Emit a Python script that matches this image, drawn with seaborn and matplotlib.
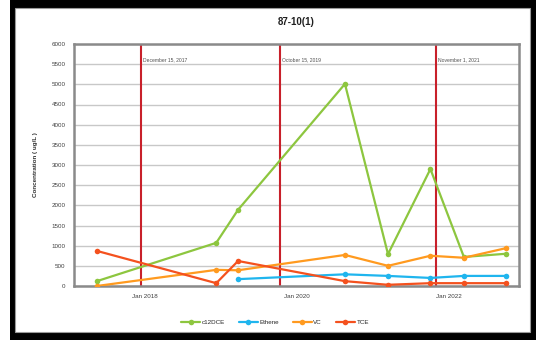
import matplotlib
matplotlib.use("Agg")
import matplotlib.pyplot as plt
import matplotlib.dates as mdates
from matplotlib.patches import Rectangle
import pandas as pd
import numpy as np
import seaborn as sns

# Sampling dates and concentrations (ug/L)
sample_dates = ["2017-05-15", "2018-12-10", "2019-03-25", "2020-08-20",
                "2021-03-15", "2021-10-05", "2022-03-15", "2022-10-05"]
c12dce = [120, 1070, 1890, 5010, 790, 2900, 720, 800]
ethene = [np.nan, np.nan, 170, 290, 250, 200, 250, 250]
vc = [0, 400, 390, 770, 500, 750, 700, 940]
tce = [870, 70, 620, 120, 30, 70, 70, 70]

series_names = ["c12DCE", "Ethene", "VC", "TCE"]
series_colors = ["#8DC63F", "#1FB5EE", "#FF9A1F", "#F4511E"]

# Treatment events marked with vertical lines
event_dates = ["2017-12-15", "2019-10-15", "2021-11-01"]
event_labels = ["December 15, 2017", "October 15, 2019", "November 1, 2021"]

title = "87-10(1)"
y_label = "Concentration ( ug/L )"

sns.set_style("white")
plt.rcParams["font.family"] = ["Liberation Sans", "DejaVu Sans"]

df = pd.DataFrame({"date": pd.to_datetime(sample_dates),
                   "c12DCE": c12dce, "Ethene": ethene, "VC": vc, "TCE": tce})
long = df.melt(id_vars="date", var_name="series", value_name="conc").dropna()

W, H = 536, 340
fig = plt.figure(figsize=(W / 100, H / 100), dpi=100, facecolor="white")
# dark frame around the chart area
fig.patches.append(Rectangle((10 / W, 0), (W - 10) / W, 1, transform=fig.transFigure,
                             facecolor="black", edgecolor="none", zorder=-20))
fig.patches.append(Rectangle((15 / W, 8 / H), (530 - 15) / W, (332 - 8) / H,
                             transform=fig.transFigure, facecolor="white",
                             edgecolor="#9a9a9a", linewidth=0.8, zorder=-10))

ax = fig.add_axes([74 / W, (H - 286) / H, (519 - 74) / W, (286 - 44) / H])
ax.set_facecolor("white")

sns.lineplot(data=long, x="date", y="conc", hue="series", hue_order=series_names,
             palette=series_colors, marker="o", markersize=4, markeredgewidth=0,
             linewidth=1.6, ax=ax, legend=True, zorder=3)

ax.set_ylim(0, 6000)
ax.set_yticks(np.arange(0, 6001, 500))
ax.set_xlim(pd.Timestamp("2017-01-25"), pd.Timestamp("2022-12-05"))
ax.xaxis.set_major_locator(mdates.YearLocator(2, month=1, day=1))
ax.xaxis.set_major_formatter(mdates.DateFormatter("Jan %Y"))
ax.tick_params(axis="both", labelsize=4.5, colors="#404040", length=0, pad=6)
ax.grid(axis="y", color="#c8c8c8", linewidth=1.0, zorder=0)
ax.grid(axis="x", visible=False)
for s in ax.spines.values():
    s.set_color("#8a8a8a")
    s.set_linewidth(1.8)

ax.set_xlabel("")
ax.set_ylabel(y_label, fontsize=4.5, fontweight="bold", color="#303030", labelpad=10)
ax.set_title(title, fontsize=7, fontweight="bold", color="#202020", pad=14)

for d, lab in zip(event_dates, event_labels):
    x = pd.Timestamp(d)
    ax.axvline(x, color="#C8202A", linewidth=1.5, zorder=2)
    ax.text(mdates.date2num(x) + 8, 5600, lab, fontsize=3.6, color="#505050",
            va="center", ha="left")

handles, labels = ax.get_legend_handles_labels()
ax.legend(handles, labels, loc="center", bbox_to_anchor=(275 / W, (H - 322) / H),
          bbox_transform=fig.transFigure, ncol=4, frameon=False, fontsize=4.5,
          handlelength=3, handletextpad=0.3, columnspacing=2.2)

fig.savefig("out.png", dpi=100, facecolor=fig.get_facecolor())
